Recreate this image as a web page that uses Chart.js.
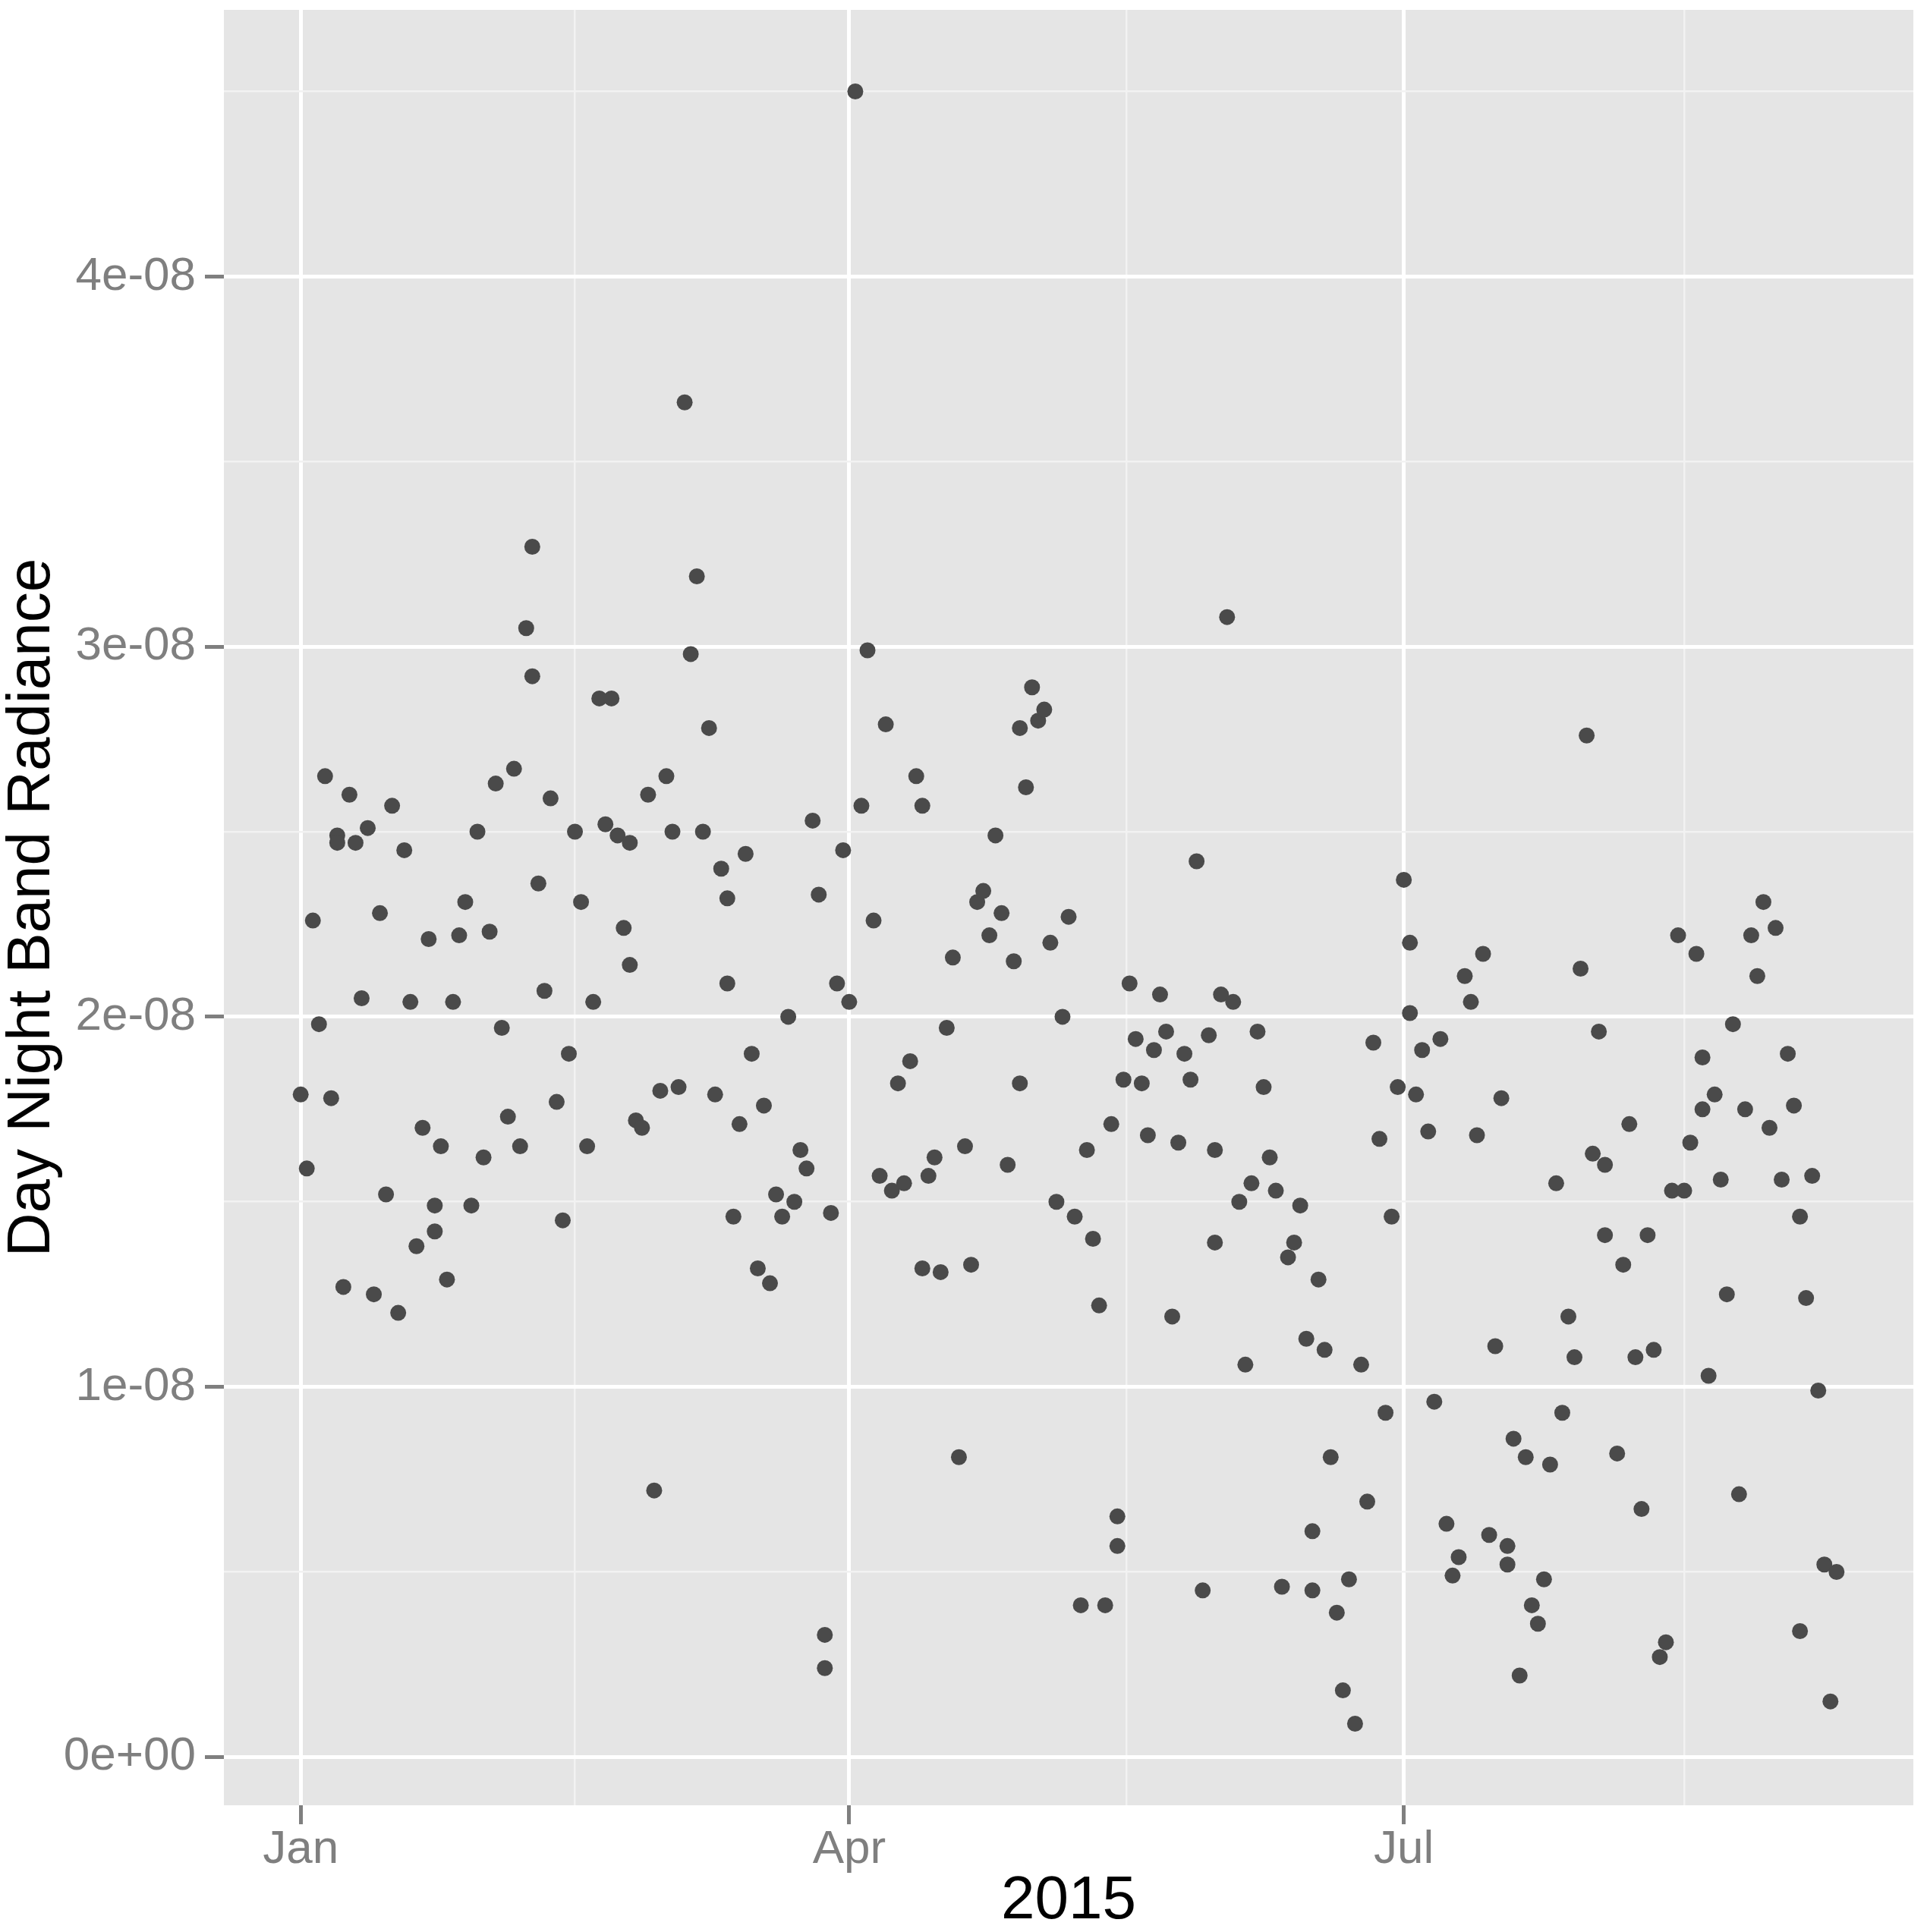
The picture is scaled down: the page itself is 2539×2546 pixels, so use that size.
<!DOCTYPE html>
<html>
<head>
<meta charset="utf-8">
<title>Day Night Band Radiance 2015</title>
<script src="https://cdn.jsdelivr.net/npm/chart.js@4.4.1/dist/chart.umd.min.js"></script>
<style>
  html, body { margin: 0; padding: 0; background: #ffffff; }
  canvas { display: block; }
</style>
</head>
<body>
<canvas id="radianceChart" width="2539" height="2546"></canvas>
<script>
// days counted from 1 Jan 2015 (some days have two passes)
const days = [
  0, 1, 2, 3, 4, 5, 6, 6, 7, 8, 9,
  10, 11, 12, 13, 14, 15, 16, 17, 18, 19,
  20, 21, 22, 22, 23, 24, 25, 26, 27, 28, 29,
  30, 31, 32, 33, 34, 35, 36, 37, 38, 38, 39,
  40, 41, 42, 43, 44, 45, 46, 47, 48, 49,
  50, 51, 52, 53, 54, 54, 55, 56, 57, 58, 59,
  60, 61, 62, 63, 64, 65, 66, 67, 68, 69,
  70, 70, 71, 72, 73, 74, 75, 76, 77, 78, 79,
  80, 81, 82, 83, 84, 85, 86, 86, 87, 88, 89,
  90, 91, 92, 93, 94, 95, 96, 97, 98, 99,
  100, 101, 102, 102, 103, 104, 105, 106, 107, 108, 109,
  110, 111, 112, 113, 114, 115, 116, 117, 118, 118, 119,
  120, 121, 122, 123, 124, 125, 126, 127, 128, 129,
  130, 131, 132, 133, 134, 134, 135, 136, 137, 138, 139,
  140, 141, 142, 143, 144, 145, 146, 147, 148, 149,
  150, 150, 151, 152, 153, 154, 155, 156, 157, 158, 159,
  160, 161, 162, 163, 164, 165, 166, 166, 167, 168, 169,
  170, 171, 172, 173, 174, 175, 176, 177, 178, 179,
  180, 181, 182, 182, 183, 184, 185, 186, 187, 188, 189,
  190, 191, 192, 193, 194, 195, 196, 197, 198, 198, 199,
  200, 201, 202, 203, 204, 205, 206, 207, 208, 209,
  210, 211, 212, 213, 214, 214, 216, 217, 218, 219,
  220, 221, 222, 223, 224, 225, 226, 227, 228, 229,
  230, 230, 231, 232, 233, 234, 235, 236, 237, 238, 239,
  240, 241, 242, 243, 244, 245, 246, 246, 247, 248, 249,
  250, 251, 252
];

const radiance = [
  1.79e-8, 1.59e-8, 2.26e-8, 1.98e-8, 2.65e-8, 1.78e-8, 2.49e-8, 2.47e-8, 1.27e-8, 2.60e-8, 2.47e-8,
  2.05e-8, 2.51e-8, 1.25e-8, 2.28e-8, 1.52e-8, 2.57e-8, 1.20e-8, 2.45e-8, 2.04e-8, 1.38e-8,
  1.70e-8, 2.21e-8, 1.49e-8, 1.42e-8, 1.65e-8, 1.29e-8, 2.04e-8, 2.22e-8, 2.31e-8, 1.49e-8, 2.50e-8,
  1.62e-8, 2.23e-8, 2.63e-8, 1.97e-8, 1.73e-8, 2.67e-8, 1.65e-8, 3.05e-8, 3.27e-8, 2.92e-8, 2.36e-8,
  2.07e-8, 2.59e-8, 1.77e-8, 1.45e-8, 1.90e-8, 2.50e-8, 2.31e-8, 1.65e-8, 2.04e-8, 2.86e-8,
  2.52e-8, 2.86e-8, 2.49e-8, 2.24e-8, 2.47e-8, 2.14e-8, 1.72e-8, 1.70e-8, 2.60e-8, 0.72e-8, 1.80e-8,
  2.65e-8, 2.50e-8, 1.81e-8, 3.66e-8, 2.98e-8, 3.19e-8, 2.50e-8, 2.78e-8, 1.79e-8, 2.40e-8,
  2.32e-8, 2.09e-8, 1.46e-8, 1.71e-8, 2.44e-8, 1.90e-8, 1.32e-8, 1.76e-8, 1.28e-8, 1.52e-8, 1.46e-8,
  2.00e-8, 1.50e-8, 1.64e-8, 1.59e-8, 2.53e-8, 2.33e-8, 0.33e-8, 0.24e-8, 1.47e-8, 2.09e-8, 2.45e-8,
  2.04e-8, 4.50e-8, 2.57e-8, 2.99e-8, 2.26e-8, 1.57e-8, 2.79e-8, 1.53e-8, 1.82e-8, 1.55e-8,
  1.88e-8, 2.65e-8, 1.32e-8, 2.57e-8, 1.57e-8, 1.62e-8, 1.31e-8, 1.97e-8, 2.16e-8, 0.81e-8, 1.65e-8,
  1.33e-8, 2.31e-8, 2.34e-8, 2.22e-8, 2.49e-8, 2.28e-8, 1.60e-8, 2.15e-8, 2.78e-8, 1.82e-8, 2.62e-8,
  2.89e-8, 2.80e-8, 2.83e-8, 2.20e-8, 1.50e-8, 2.00e-8, 2.27e-8, 1.46e-8, 0.41e-8, 1.64e-8,
  1.40e-8, 1.22e-8, 0.41e-8, 1.71e-8, 0.65e-8, 0.57e-8, 1.83e-8, 2.09e-8, 1.94e-8, 1.82e-8, 1.68e-8,
  1.91e-8, 2.06e-8, 1.96e-8, 1.19e-8, 1.66e-8, 1.90e-8, 1.83e-8, 2.42e-8, 0.45e-8, 1.95e-8,
  1.64e-8, 1.39e-8, 2.06e-8, 3.08e-8, 2.04e-8, 1.50e-8, 1.06e-8, 1.55e-8, 1.96e-8, 1.81e-8, 1.62e-8,
  1.53e-8, 0.46e-8, 1.35e-8, 1.39e-8, 1.49e-8, 1.13e-8, 0.61e-8, 0.45e-8, 1.29e-8, 1.10e-8, 0.81e-8,
  0.39e-8, 0.18e-8, 0.48e-8, 0.09e-8, 1.06e-8, 0.69e-8, 1.93e-8, 1.67e-8, 0.93e-8, 1.46e-8,
  1.81e-8, 2.37e-8, 2.01e-8, 2.20e-8, 1.79e-8, 1.91e-8, 1.69e-8, 0.96e-8, 1.94e-8, 0.63e-8, 0.49e-8,
  0.54e-8, 2.11e-8, 2.04e-8, 1.68e-8, 2.17e-8, 0.60e-8, 1.11e-8, 1.78e-8, 0.57e-8, 0.52e-8, 0.86e-8,
  0.22e-8, 0.81e-8, 0.41e-8, 0.36e-8, 0.48e-8, 0.79e-8, 1.55e-8, 0.93e-8, 1.19e-8, 1.08e-8,
  2.13e-8, 2.76e-8, 1.63e-8, 1.96e-8, 1.60e-8, 1.41e-8, 0.82e-8, 1.33e-8, 1.71e-8, 1.08e-8,
  0.67e-8, 1.41e-8, 1.10e-8, 0.27e-8, 0.31e-8, 1.53e-8, 2.22e-8, 1.53e-8, 1.66e-8, 2.17e-8,
  1.89e-8, 1.75e-8, 1.03e-8, 1.79e-8, 1.56e-8, 1.25e-8, 1.98e-8, 0.71e-8, 1.75e-8, 2.22e-8, 2.11e-8,
  2.31e-8, 1.70e-8, 2.24e-8, 1.56e-8, 1.90e-8, 1.76e-8, 1.46e-8, 0.34e-8, 1.24e-8, 1.57e-8, 0.99e-8,
  0.52e-8, 0.15e-8, 0.50e-8
];

// axis breaks: 1 Jan, 1 Apr, 1 Jul as day offsets, minor breaks halfway between
const xMajorDays = [0, 90, 181];
const xTickLabels = ['Jan', 'Apr', 'Jul'];
const xMinorDays = [45, 135.5, 227];

const yMajorValues = [0, 1e-8, 2e-8, 3e-8, 4e-8];
const yTickLabels = ['0e+00', '1e-08', '2e-08', '3e-08', '4e-08'];
const yMinorValues = [0.5e-8, 1.5e-8, 2.5e-8, 3.5e-8, 4.5e-8];

// ggplot style 5% expansion around the data
function expanded(values) {
  const lo = Math.min(...values), hi = Math.max(...values);
  const pad = (hi - lo) * 0.05;
  return { min: lo - pad, max: hi + pad };
}
const xRange = expanded(days);
const yRange = expanded(radiance);

const panelBackground = {
  id: 'panelBackground',
  beforeDraw(chart) {
    const { ctx, chartArea: a } = chart;
    ctx.save();
    ctx.fillStyle = '#E5E5E5';
    ctx.fillRect(a.left, a.top, a.right - a.left, a.bottom - a.top);
    ctx.restore();
  }
};

function gridFor(majors) {
  const isMajor = c => c.tick && majors.includes(c.tick.value);
  return {
    color: c => isMajor(c) ? '#FFFFFF' : '#F2F2F2',
    lineWidth: c => isMajor(c) ? 5 : 2.5,
    tickColor: c => isMajor(c) ? '#7F7F7F' : 'rgba(0,0,0,0)',
    tickWidth: 5,
    tickLength: 25,
    drawTicks: true
  };
}

// no label overhang padding, the panel edges are fixed by layout padding
function noOverhang(s) {
  s.paddingTop = 0;
  s.paddingBottom = 0;
  s.paddingLeft = 0;
  s.paddingRight = 0;
}

Chart.defaults.font.family = '"Liberation Sans", Arial, Helvetica, sans-serif';

new Chart(document.getElementById('radianceChart'), {
  type: 'scatter',
  data: {
    datasets: [{
      data: days.map((d, i) => ({ x: d, y: radiance[i] })),
      backgroundColor: '#4A4A4A',
      borderWidth: 0,
      pointRadius: 10.5,
      pointHoverRadius: 10.5
    }]
  },
  options: {
    responsive: false,
    animation: false,
    devicePixelRatio: 1,
    layout: { padding: { top: 13, right: 18, bottom: 0, left: 0 } },
    plugins: {
      legend: { display: false },
      tooltip: { enabled: false }
    },
    scales: {
      x: {
        type: 'linear',
        min: xRange.min,
        max: xRange.max,
        afterBuildTicks: s => {
          s.ticks = xMajorDays.concat(xMinorDays).sort((a, b) => a - b).map(v => ({ value: v }));
        },
        afterFit: s => { s.height = 167; noOverhang(s); },
        border: { display: false },
        grid: gridFor(xMajorDays),
        ticks: {
          autoSkip: false,
          maxRotation: 0,
          padding: 3,
          color: '#7F7F7F',
          font: { size: 62, lineHeight: 1 },
          callback: v => {
            const i = xMajorDays.indexOf(v);
            return i < 0 ? '' : xTickLabels[i];
          }
        },
        title: {
          display: true,
          text: '2015',
          color: '#000000',
          font: { size: 80, lineHeight: 1 },
          padding: { top: 0, bottom: 0 }
        }
      },
      y: {
        type: 'linear',
        min: yRange.min,
        max: yRange.max,
        afterBuildTicks: s => {
          s.ticks = yMajorValues.concat(yMinorValues).sort((a, b) => a - b).map(v => ({ value: v }));
        },
        afterFit: s => { s.width = 295; noOverhang(s); },
        border: { display: false },
        grid: gridFor(yMajorValues),
        ticks: {
          autoSkip: false,
          padding: 12,
          color: '#7F7F7F',
          font: { size: 62, lineHeight: 1 },
          callback: v => {
            const i = yMajorValues.indexOf(v);
            return i < 0 ? '' : yTickLabels[i];
          }
        },
        title: {
          display: true,
          text: 'Day Night Band Radiance',
          color: '#000000',
          font: { size: 80, lineHeight: 1 },
          padding: { top: 3, bottom: 0 }
        }
      }
    }
  },
  plugins: [panelBackground]
});
</script>
</body>
</html>
